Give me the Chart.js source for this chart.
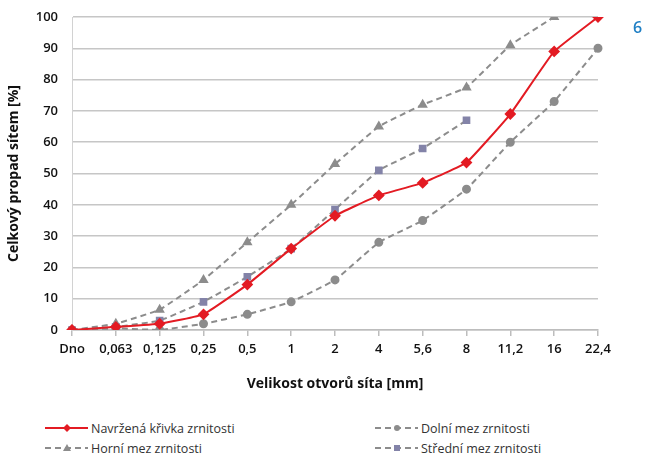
<!DOCTYPE html>
<html>
<head>
<meta charset="utf-8">
<script src="https://cdn.jsdelivr.net/npm/chart.js@4.4.1/dist/chart.umd.min.js"></script>
<style>
  body { margin: 0; background: #fff; font-family: 'Open Sans', sans-serif; }
  #wrap { position: relative; width: 649px; height: 459px; }
  #chart-box { position: absolute; left: 0; top: 0; width: 649px; height: 396px; }
  #page-num { position: absolute; left: 633px; top: 16px; color: #1f7fc4; font-size: 16px; font-weight: 600; }
  .lg-item { position: absolute; display: flex; align-items: center; height: 18px; font-size: 12.5px; color: #333; white-space: nowrap; }
  .lg-item svg { margin-right: 3px; }
</style>
</head>
<body>
<div id="wrap">
  <div id="chart-box"><canvas id="grading-chart"></canvas></div>
  <div id="page-num">6</div>
  <div id="legend"></div>
</div>
<script>
// Sieve sizes (categories)
const SIEVES = ['Dno', '0,063', '0,125', '0,25', '0,5', '1', '2', '4', '5,6', '8', '11,2', '16', '22,4'];

// Passing percentages
const designCurve = [0, 1, 2, 5, 14.5, 26, 36.5, 43, 47, 53.5, 69, 89, 100];
const lowerLimit = [0, 0.5, 0, 2, 5, 9, 16, 28, 35, 45, 60, 73, 90];
const upperLimit = [0, 2, 6.5, 16, 28, 40, 53, 65, 72, 77.5, 91, 100, null];
const middleLimit = [0, 1, 3, 9, 17, 26, 38.5, 51, 58, 67, null, null, null];

const Y_TICKS = [0, 10, 20, 30, 40, 50, 60, 70, 80, 90, 100];

// Legend placement: [left, top] for each dataset
const LEGEND_POS = [[45, 419], [375, 419], [45, 439], [375, 439]];

const GRAY = '#8c8c8c';

const datasets = [
  {
    label: 'Navržená křivka zrnitosti',
    data: designCurve,
    borderColor: '#e31b23',
    backgroundColor: '#e31b23',
    borderWidth: 2,
    pointStyle: 'rectRot',
    pointRadius: 4.5,
    tension: 0.1,
    order: 0
  },
  {
    label: 'Dolní mez zrnitosti',
    data: lowerLimit,
    borderColor: GRAY,
    backgroundColor: GRAY,
    borderWidth: 2,
    borderDash: [6, 4],
    pointStyle: 'circle',
    pointRadius: 3.5,
    tension: 0.1,
    order: 2
  },
  {
    label: 'Horní mez zrnitosti',
    data: upperLimit,
    borderColor: GRAY,
    backgroundColor: GRAY,
    borderWidth: 2,
    borderDash: [6, 4],
    pointStyle: 'triangle',
    pointRadius: 4,
    tension: 0.1,
    order: 2
  },
  {
    label: 'Střední mez zrnitosti',
    data: middleLimit,
    borderColor: GRAY,
    backgroundColor: '#8383a8',
    pointBorderColor: '#8383a8',
    borderWidth: 2,
    borderDash: [6, 4],
    pointStyle: 'rect',
    pointRadius: 4,
    tension: 0.1,
    order: 1
  }
];

const ctx = document.getElementById('grading-chart').getContext('2d');
const gradingChart = new Chart(ctx, {
  type: 'line',
  data: { labels: SIEVES, datasets: datasets },
  options: {
    responsive: true,
    maintainAspectRatio: false,
    animation: false,
    layout: { padding: { left: 2, right: 51, top: 17, bottom: 0 } },
    plugins: {
      legend: { display: false },
      tooltip: { enabled: false }
    },
    scales: {
      x: {
        offset: false,
        grid: { drawOnChartArea: false, drawTicks: true, tickLength: 6, color: '#bdbdbd', lineWidth: 1.5 },
        border: { color: '#bdbdbd', width: 1.5 },
        ticks: {
          autoSkip: false,
          maxRotation: 0,
          padding: 5,
          color: '#111',
          font: { family: 'Open Sans', size: 13, weight: '600' }
        },
        title: {
          display: true,
          text: 'Velikost otvorů síta [mm]',
          color: '#111',
          font: { family: 'Open Sans', size: 14, weight: 'bold' }
        },
        afterFit: scale => { scale.height = 66; }
      },
      y: {
        min: 0,
        max: 100,
        afterBuildTicks: scale => { scale.ticks = Y_TICKS.map(v => ({ value: v })); },
        grid: { drawTicks: false, color: '#c6c6c6', lineWidth: 1.5 },
        border: { color: '#d2d2d2', width: 1 },
        ticks: {
          padding: 14,
          color: '#111',
          font: { family: 'Open Sans', size: 13, weight: '600' }
        },
        title: {
          display: true,
          text: 'Celkový propad sítem [%]',
          color: '#111',
          font: { family: 'Open Sans', size: 14, weight: 'bold' }
        },
        // fixed width; drop the label padding so layout.padding.top sets the top edge
        afterFit: scale => {
          scale.width = 70;
          scale.paddingTop = 0;
          scale.paddingBottom = 0;
        }
      }
    }
  }
});

// HTML legend built from the chart's datasets
function buildLegend(chart) {
  const box = document.getElementById('legend');
  box.innerHTML = '';
  chart.data.datasets.forEach((ds, i) => {
    const [left, top] = LEGEND_POS[i];
    const dash = ds.borderDash ? `stroke-dasharray="${ds.borderDash.join(' ')}"` : '';
    const fill = ds.pointBorderColor || ds.backgroundColor;
    let marker = '';
    if (ds.pointStyle === 'rectRot') marker = `<polygon points="22,2 26,6 22,10 18,6" fill="${fill}"/>`;
    else if (ds.pointStyle === 'circle') marker = `<circle cx="22" cy="6" r="3" fill="${fill}"/>`;
    else if (ds.pointStyle === 'triangle') marker = `<polygon points="22,2 26,9 18,9" fill="${fill}"/>`;
    else marker = `<rect x="19" y="3" width="6" height="6" fill="${fill}"/>`;
    const item = document.createElement('div');
    item.className = 'lg-item';
    item.style.left = left + 'px';
    item.style.top = top + 'px';
    item.innerHTML = `<svg width="43" height="12"><line x1="0" y1="6" x2="43" y2="6" stroke="${ds.borderColor}" stroke-width="2" ${dash}/>${marker}</svg><span>${ds.label}</span>`;
    box.appendChild(item);
  });
}

buildLegend(gradingChart);
</script>
</body>
</html>
